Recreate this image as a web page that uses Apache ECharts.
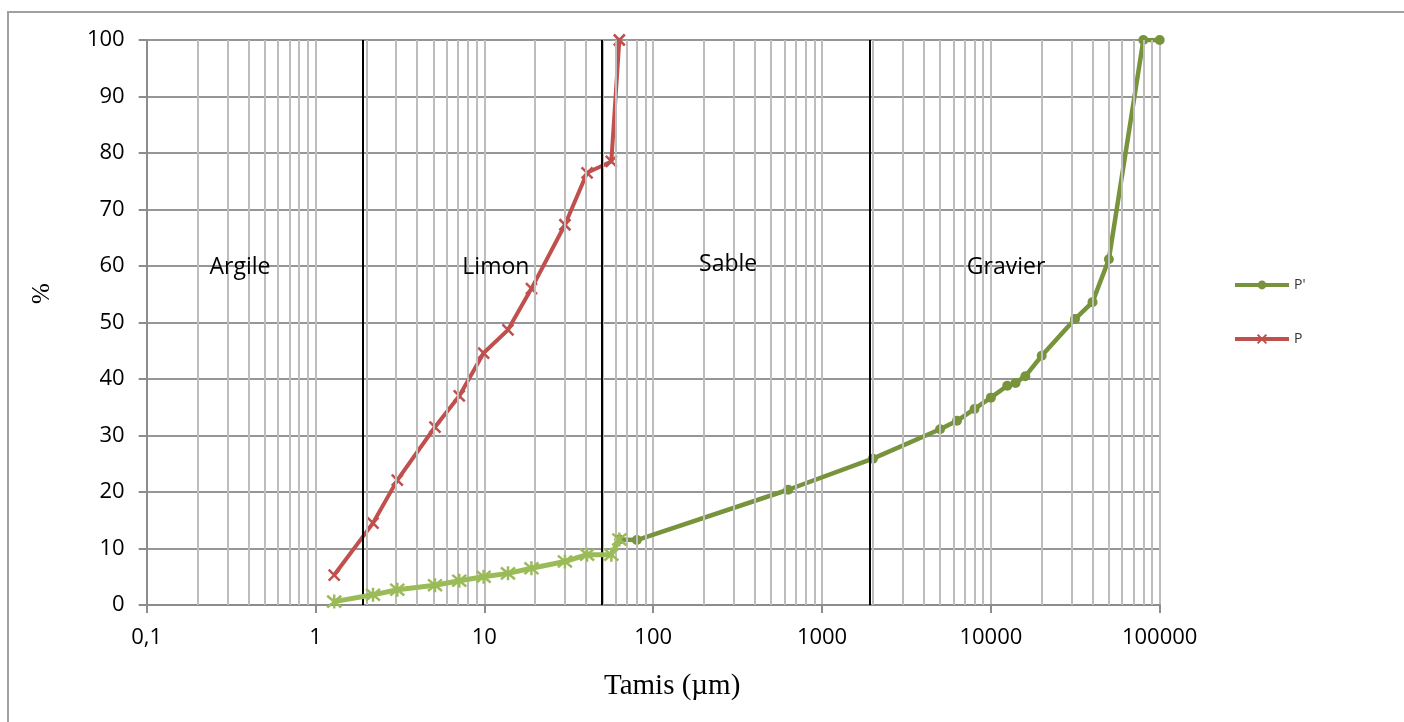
<!DOCTYPE html>
<html>
<head>
<meta charset="utf-8">
<script src="https://cdn.jsdelivr.net/npm/echarts@6/dist/echarts.min.js"></script>
<style>html,body{margin:0;padding:0;background:#fff;}#c{width:1404px;height:722px;}</style>
</head>
<body>
<div id="c"></div>
<script>
// ---- data ----
const fineSizes = [1.29, 2.19, 3.05, 5.1, 7.1, 9.9, 13.8, 19, 30, 40.6, 56.5, 63];
const pValues   = [5.3, 14.5, 22.1, 31.5, 37.0, 44.6, 48.7, 56.0, 67.3, 76.5, 78.5, 100];
const pScaled   = [0.6, 1.8, 2.7, 3.5, 4.3, 5.0, 5.6, 6.5, 7.7, 8.9, 8.9, 11.6];
const sieveSizes = [63, 80, 630, 2000, 5000, 6300, 8000, 10000, 12500, 14000, 16000, 20000, 31500, 40000, 50000, 80000, 100000];
const pPrimeValues = [11.6, 11.5, 20.4, 25.9, 31.1, 32.6, 34.7, 36.7, 38.8, 39.3, 40.5, 44.1, 50.6, 53.6, 61.2, 100, 100];
const boundaries = [1.9, 49.6, 1930];
const zoneNames = ['Argile', 'Limon', 'Sable', 'Gravier'];
const zoneX = [0.357, 11.7, 278, 12300];
const zoneY = [59.8, 59.8, 60.2, 59.8];
const xTickLabels = {0.1:'0,1', 1:'1', 10:'10', 100:'100', 1000:'1000', 10000:'10000', 100000:'100000'};

const zip = (xs, ys) => xs.map((x, i) => [x, ys[i]]);

// minor vertical grid lines at 2..9 within each decade
const minorLines = [];
[0.1, 1, 10, 100, 1000, 10000].forEach(d => { for (let k = 2; k <= 9; k++) minorLines.push({xAxis: +(k * d).toPrecision(6)}); });

const xMark = 'path://M0,0L10,10M10,0L0,10';
const starMark = 'path://M0,0L10,10M10,0L0,10M5,-1L5,11';

const chart = echarts.init(document.getElementById('c'), null, {renderer: 'canvas'});
const font = "'Open Sans', 'Liberation Sans', sans-serif";
chart.setOption({
  animation: false,
  backgroundColor: '#fff',
  grid: {left: 146.7, right: 244.3, top: 40, bottom: 117},
  graphic: [
    {type: 'rect', shape: {x: 8, y: 12, width: 1500, height: 800}, style: {fill: 'none', stroke: '#a0a0a0', lineWidth: 2}, z: -10},
    {type: 'text', left: 604, top: 672, style: {text: 'Tamis (µm)', font: "29px 'Liberation Serif', 'Times New Roman', serif", fill: '#000'}},
    {type: 'text', x: 30, y: 304, rotation: Math.PI / 2, style: {text: '%', font: "25px 'Liberation Serif', 'Times New Roman', serif", fill: '#000'}}
  ],
  legend: {
    orient: 'vertical', left: 1228, top: 273, itemGap: 40,
    itemWidth: 54, itemHeight: 11,
    data: ["P'", 'P'],
    lineStyle: {width: 4},
    textStyle: {fontFamily: font, fontSize: 14, color: '#333'}
  },
  xAxis: {
    type: 'log', logBase: 10, min: 0.1, max: 100000,
    axisLine: {show: true, lineStyle: {color: '#8c8c8c', width: 2}},
    axisTick: {show: true, length: 8, lineStyle: {color: '#8c8c8c', width: 2}},
    axisLabel: {margin: 22, fontFamily: font, fontSize: 22, color: '#000', formatter: v => xTickLabels[v] !== undefined ? xTickLabels[v] : ''},
    splitLine: {show: true, lineStyle: {color: '#bdbdbd', width: 2}}
  },
  yAxis: {
    type: 'value', min: 0, max: 100, interval: 10,
    axisLine: {show: true, lineStyle: {color: '#8c8c8c', width: 2}},
    axisTick: {show: true, length: 8, lineStyle: {color: '#8c8c8c', width: 2}},
    axisLabel: {margin: 22, fontFamily: font, fontSize: 22, color: '#000'},
    splitLine: {show: true, lineStyle: {color: '#969696', width: 2}}
  },
  series: [
    {
      name: 'grid-minor', type: 'line', data: [], silent: true, z: 0,
      markLine: {silent: true, symbol: 'none', label: {show: false}, animation: false,
        lineStyle: {color: '#bdbdbd', width: 2, type: 'solid'}, data: minorLines}
    },
    {
      name: 'bounds', type: 'line', data: [], silent: true, z: 1,
      markLine: {silent: true, symbol: 'none', label: {show: false}, animation: false,
        lineStyle: {color: '#000', width: 2, type: 'solid'}, data: boundaries.map(b => ({xAxis: b}))}
    },
    {
      name: "P'", type: 'line', data: zip(sieveSizes, pPrimeValues), z: 3,
      symbol: 'circle', symbolSize: 10, showSymbol: true,
      lineStyle: {color: '#77933C', width: 4.5},
      itemStyle: {color: '#77933C'}
    },
    {
      name: 'P', type: 'line', data: zip(fineSizes, pValues), z: 4,
      symbol: xMark, symbolSize: 11,
      lineStyle: {color: '#C0504D', width: 4},
      itemStyle: {color: 'rgba(0,0,0,0)', borderColor: '#C0504D', borderWidth: 2.5}
    },
    {
      name: 'Pfine', type: 'line', data: zip(fineSizes, pScaled), z: 5,
      symbol: starMark, symbolSize: 14,
      lineStyle: {color: '#9BBB59', width: 5},
      itemStyle: {color: 'rgba(0,0,0,0)', borderColor: '#9BBB59', borderWidth: 2.5}
    },
    {
      name: 'zones', type: 'scatter', silent: true, z: 6,
      symbolSize: 1, itemStyle: {color: 'rgba(0,0,0,0)'},
      data: zoneNames.map((n, i) => ({name: n, value: [zoneX[i], zoneY[i]]})),
      label: {show: true, position: 'inside', formatter: p => p.name, fontFamily: font, fontSize: 23,
        color: '#000', textBorderWidth: 0, textBorderColor: 'transparent', opacity: 1}
    }
  ]
});
</script>
</body>
</html>
